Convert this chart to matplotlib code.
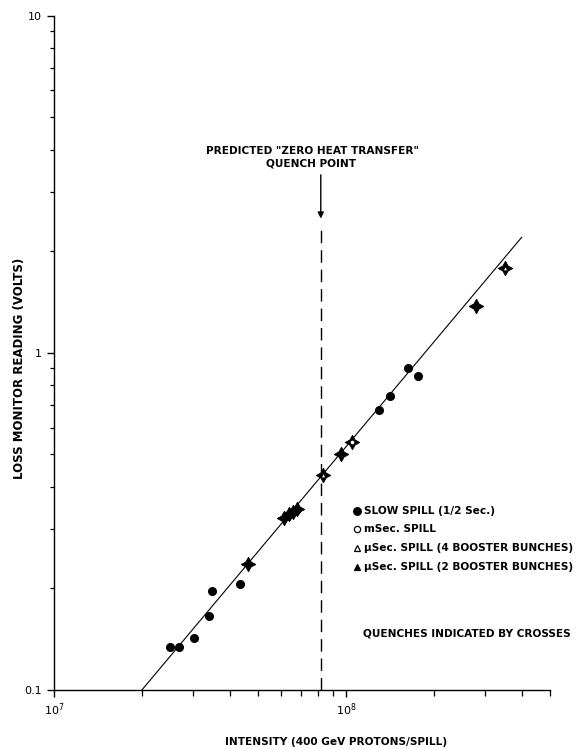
#!/usr/bin/env python3

# loss monitor reading vs beam intensity, quench study

import numpy as np
import matplotlib.pyplot as plt

# slow spill points without quench (filled circles)
slow_x = [2.49e7, 2.68e7, 3.01e7, 3.40e7, 3.48e7, 4.33e7, 1.30e8, 1.42e8, 1.63e8, 1.76e8]
slow_y = [0.134, 0.134, 0.143, 0.166, 0.196, 0.206, 0.675, 0.744, 0.90, 0.853]

# points where the magnet quenched (drawn with crosses)
quench_x = [4.62e7, 6.14e7, 6.38e7, 6.58e7, 6.79e7, 8.35e7, 9.62e7, 1.046e8, 2.80e8, 3.50e8]
quench_y = [0.237, 0.323, 0.332, 0.337, 0.344, 0.433, 0.502, 0.544, 1.375, 1.78]
quench_kind = ['usec2', 'usec2', 'usec2', 'slow', 'usec2', 'usec4', 'slow', 'msec', 'usec2', 'usec4']

# straight line drawn through the points
fit_x = [2.0e7, 4.0e8]
fit_y = [0.1, 2.2]

# predicted quench point
quench_pred_x = 8.2e7
arrow_y = [3.37, 2.5]
dash_y = [0.1, 2.4]

legend_labels = ['SLOW SPILL (1/2 Sec.)', 'mSec. SPILL',
                 '\u03bcSec. SPILL (4 BOOSTER BUNCHES)',
                 '\u03bcSec. SPILL (2 BOOSTER BUNCHES)']

styles = {
    'slow':  dict(marker='o', mfc='black', ms=5.5),
    'msec':  dict(marker='o', mfc='white', ms=4.5),
    'usec4': dict(marker='^', mfc='white', ms=5),
    'usec2': dict(marker='^', mfc='black', ms=5),
}

plt.rcParams['font.family'] = 'DejaVu Sans'

fig = plt.figure(figsize=(5.83, 7.49), dpi=100)
ax = fig.add_axes([54/583, 1 - 690/749, 496/583, 674.5/749])
ax.set_xscale('log')
ax.set_yscale('log')
ax.set_xlim(1e7, 5e8)
ax.set_ylim(0.1, 10)

ax.plot(fit_x, fit_y, color='black', lw=0.8)

ax.plot(slow_x, slow_y, ls='none', color='black', **styles['slow'])

for x, y, k in zip(quench_x, quench_y, quench_kind):
    ax.plot(x, y, ls='none', marker=(4, 1, 0), ms=10.5, color='black', mew=0.6)
    if k in ('msec', 'usec4'):
        st = dict(styles[k])
        st['ms'] = 3.5
        ax.plot(x, y, ls='none', color='black', mew=0.8, **st)

# predicted quench point: arrow then dashed line
ax.annotate('', xy=(quench_pred_x, arrow_y[1]), xytext=(quench_pred_x, arrow_y[0]),
            arrowprops=dict(arrowstyle='-|>', color='black', lw=1.0,
                            mutation_scale=9, shrinkA=0, shrinkB=0))
ax.plot([quench_pred_x, quench_pred_x], dash_y, color='black', lw=1.0,
        dashes=(9, 5))

tfont = dict(fontsize=7.6, fontweight='bold', color='black')
ax.text(0.522, 0.799, 'PREDICTED "ZERO HEAT TRANSFER"', transform=ax.transAxes,
        ha='center', va='center', **tfont)
ax.text(0.518, 0.781, 'QUENCH POINT', transform=ax.transAxes,
        ha='center', va='center', **tfont)

# hand drawn legend
rows = [0.266, 0.238, 0.210, 0.183]
for lab, k, ry in zip(legend_labels, ['slow', 'msec', 'usec4', 'usec2'], rows):
    ax.plot(0.610, ry, transform=ax.transAxes, ls='none', color='black',
            mew=0.9, clip_on=False, **styles[k])
    ax.text(0.625, ry, lab, transform=ax.transAxes, ha='left', va='center', **tfont)
ax.text(0.623, 0.0845, 'QUENCHES INDICATED BY CROSSES', transform=ax.transAxes,
        ha='left', va='center', **tfont)

# axes look
ax.spines['top'].set_visible(False)
ax.spines['right'].set_visible(False)
for s in ('left', 'bottom'):
    ax.spines[s].set_linewidth(1.0)
ax.set_xticks([1e7, 1e8], labels=['$10^7$', '$10^8$'])
ax.set_yticks([0.1, 1, 10], labels=['0.1', '1', '10'])
ax.tick_params(which='major', direction='out', length=5, width=1.0, labelsize=8)
ax.tick_params(which='minor', direction='out', length=4, width=0.9)
ax.tick_params(axis='y', which='minor', length=3)
ax.xaxis.set_minor_formatter(plt.NullFormatter())
ax.yaxis.set_minor_formatter(plt.NullFormatter())

fig.text(336/583, 1 - 742/749, 'INTENSITY (400 GeV PROTONS/SPILL)',
         ha='center', va='center', **tfont)
fig.text(20/583, 1 - 368/749, 'LOSS MONITOR READING (VOLTS)', rotation=90,
         ha='center', va='center', fontsize=8.5, fontweight='bold', color='black')

fig.savefig('out.png', dpi=100)
